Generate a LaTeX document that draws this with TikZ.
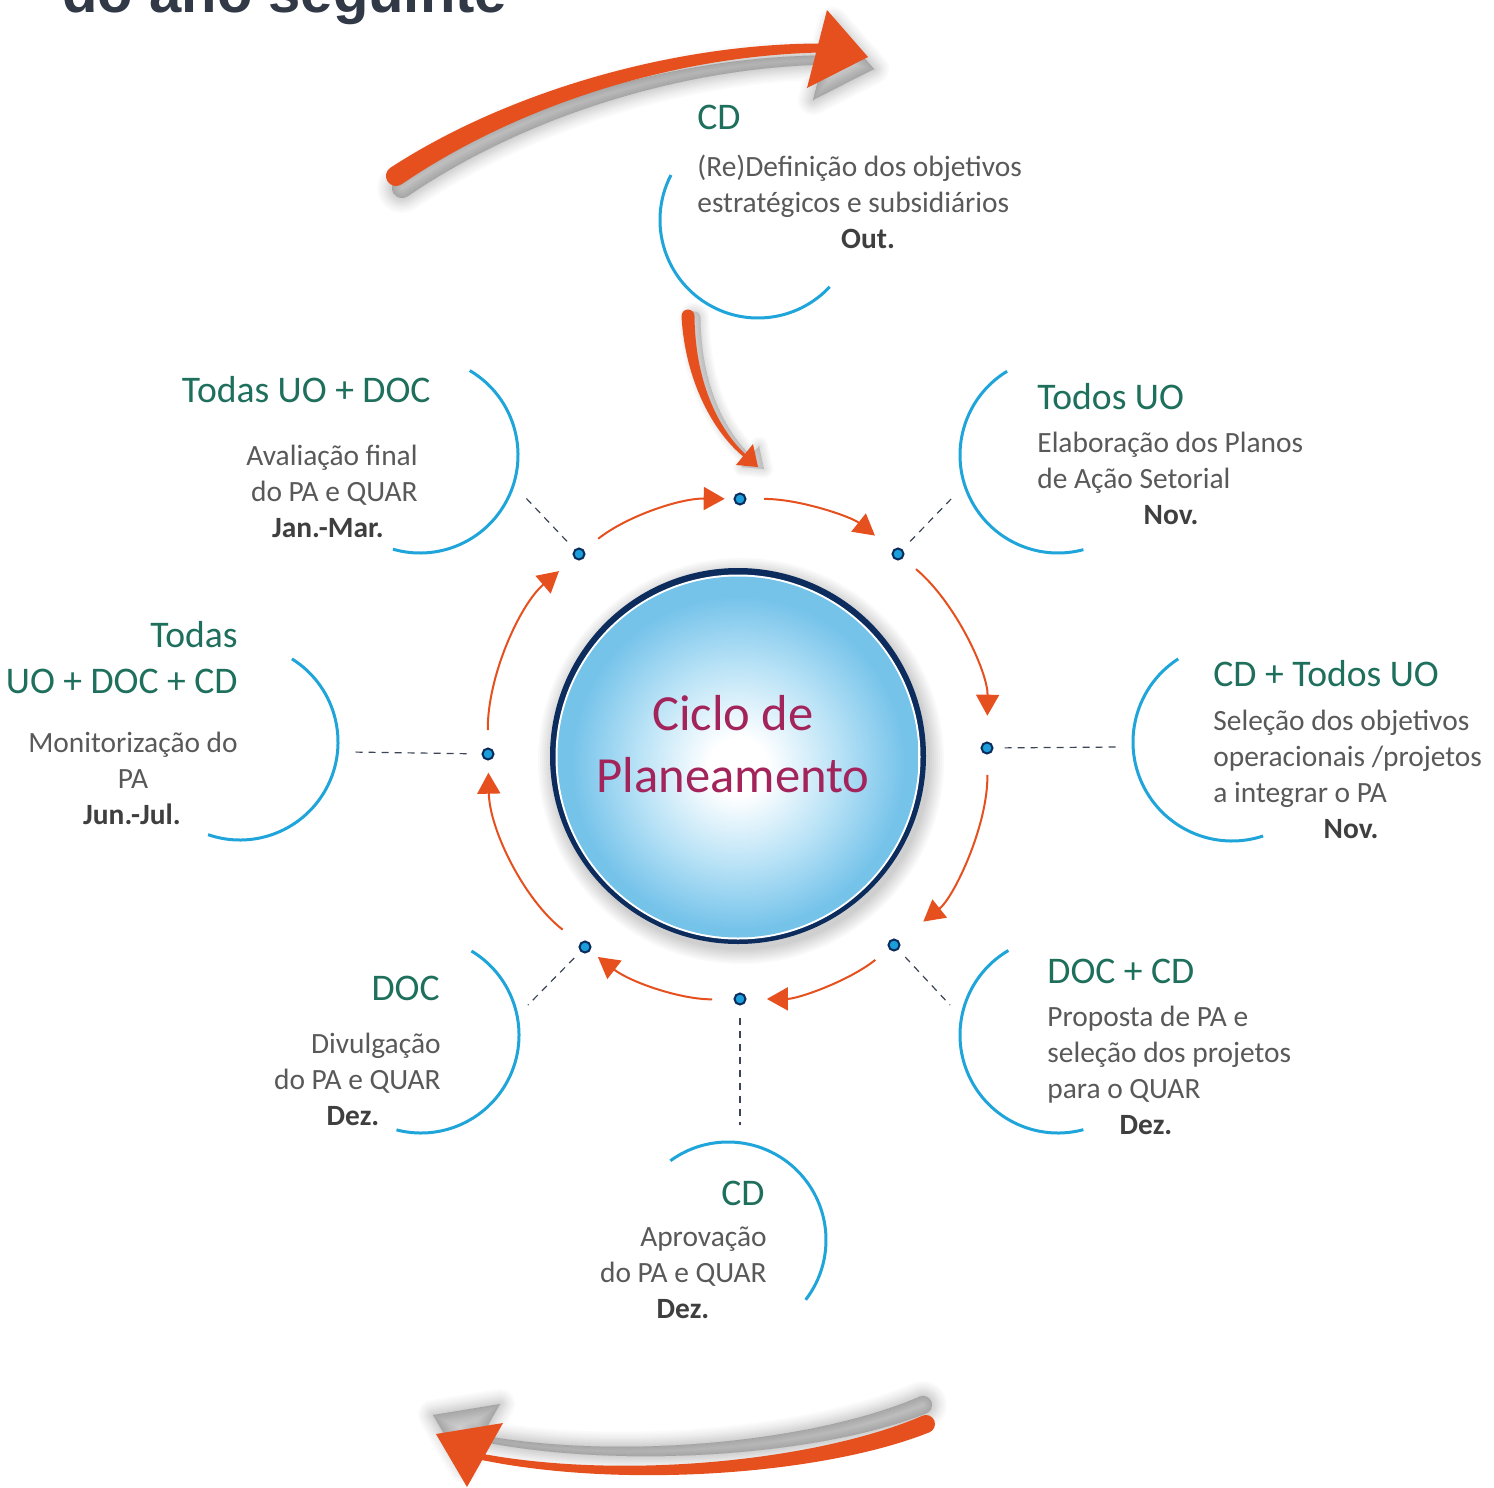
\documentclass[tikz,border=0pt]{standalone}
\usepackage{fontspec}
\setmainfont{Carlito}
\newfontfamily\titlefont{Liberation Sans}
\usetikzlibrary{arrows.meta}
\definecolor{orng}{HTML}{E6501E}
\definecolor{navy}{HTML}{0B2C5C}
\definecolor{dotblue}{HTML}{1A9FDB}
\definecolor{arcblue}{HTML}{1FA5DA}
\definecolor{hdrgreen}{HTML}{1E6F5C}
\definecolor{bodygray}{HTML}{595959}
\definecolor{mongray}{HTML}{3F3F3F}
\definecolor{crimson}{HTML}{A3245A}
\definecolor{titlegray}{HTML}{313846}
\definecolor{dashgray}{HTML}{3B4556}
\definecolor{ballmid}{HTML}{B8E2F6}
\definecolor{balledge}{HTML}{76C3EA}
\pgfdeclareradialshading{ballfill}{\pgfpoint{0bp}{-1.5bp}}{color(0bp)=(white); color(4bp)=(white); color(14bp)=(ballmid); color(23bp)=(balledge); color(25bp)=(balledge); color(50bp)=(balledge)}
% big arrow A (top), B (into the top dot), C (bottom): shaft with round tail + head
\newcommand{\arrA}{(390.5,167.7) .. controls (505.3,92.9) and (670,44) .. (820,43.5) -- (820,52.5) .. controls (670,56) and (514.7,107.1) .. (401.5,184.3) arc[start angle=56.5, end angle=236.5, radius=10] -- cycle (827,10) -- (868,57) -- (807,88) -- cycle}
\newcommand{\arrB}{(681.5,316.2) .. controls (685,380.2) and (713,432.3) .. (744,457.1) -- (746,454.9) .. controls (717,427.7) and (695,379.8) .. (694.5,315.8) arc[start angle=-1.8, end angle=-181.8, radius=6.5] -- cycle (758,467) -- (753,444) -- (736,465) -- cycle}
\newcommand{\arrC}{(922.6,1415.7) .. controls (817.1,1461.1) and (620.9,1480.6) .. (478,1453) -- (477,1459) .. controls (619.1,1489.4) and (822.9,1474.9) .. (929.4,1432.3) arc[start angle=67.7, end angle=-112.3, radius=9] -- cycle (436,1434) -- (467,1487) -- (503,1423) -- cycle}
\begin{document}
\begin{tikzpicture}[x=0.5pt,y=-0.5pt,
  dot/.style={circle, minimum size=5.5pt, inner sep=0pt, outer sep=0pt, fill=dotblue, draw=navy, line width=1pt},
  cyc/.style={draw=orng, line width=1pt, -{Triangle[length=10.5pt,width=11.5pt]}, looseness=0.88},
  lead/.style={draw=dashgray, line width=0.6pt, dash pattern=on 3.5pt off 3pt},
  barc/.style={draw=arcblue, line width=1.5pt},
  hdr/.style={text=hdrgreen, font=\fontsize{18.8}{23}\selectfont, inner sep=0pt},
  body/.style={text=bodygray, font=\fontsize{14.7}{18}\selectfont, inner sep=0pt},
  mon/.style={text=mongray, font=\bfseries\fontsize{14.7}{18}\selectfont, inner sep=0pt, anchor=base},
  lft/.style={anchor=base west, text width=180pt, align=flush left},
  rgt/.style={anchor=base east, text width=180pt, align=flush right},
  ctr/.style={anchor=base, text width=180pt, align=flush center},
  shad/.style={black, opacity=0.02, line join=round},
]
\useasboundingbox (0,0) rectangle (1494,1488);
\fill[white] (0,0) rectangle (1494,1488);

% title (cut off at the top)
\node[anchor=base west, inner sep=0pt, text=titlegray, font=\titlefont\bfseries\fontsize{29}{34}\selectfont] (title) at (62,12) {do ano seguinte};

% soft shadows of the big arrows
\begin{scope}[shift={(6,12)}]
  \foreach \w in {15pt,13pt,11pt,9pt,7.5pt,6pt,4.5pt,3pt,1.5pt,0pt}{\filldraw[shad, line width=\w] \arrA;}
\end{scope}
\begin{scope}[shift={(6,2)}]
  \foreach \w in {9pt,7.5pt,6pt,4.5pt,3pt,1.5pt,0pt}{\filldraw[shad, line width=\w] \arrB;}
\end{scope}
\begin{scope}[shift={(-3,-19)}]
  \foreach \w in {15pt,13pt,11pt,9pt,7.5pt,6pt,4.5pt,3pt,1.5pt,0pt}{\filldraw[shad, line width=\w] \arrC;}
\end{scope}

% big arrows
\fill[orng] \arrA;
\fill[orng] \arrB;
\fill[orng] \arrC;

% central sphere
\foreach \k in {0,...,7} \fill[black, opacity=0.025] (741,761) circle[radius=189+2*\k];
\fill[navy] (738,756) circle[radius=188];
\fill[white] (738,757) circle[radius=182.5];
\shade[shading=ballfill] (738,757) circle[radius=180.5];
\node[ctr, inner sep=0pt, text=crimson, font=\fontsize{25.3}{31}\selectfont] (hubtext) at (733,730) {Ciclo de\\Planeamento};

% dots
\node[dot] (dT) at (740,499) {};
\node[dot] (dTR) at (898,554) {};
\node[dot] (dR) at (987,748) {};
\node[dot] (dBR) at (894,945) {};
\node[dot] (dB) at (740,999) {};
\node[dot] (dBL) at (585,947) {};
\node[dot] (dL) at (488,754) {};
\node[dot] (dTL) at (579,554) {};

% cycle arrows
\draw[cyc, shorten <=9.5pt, shorten >=4.9pt] (dTL) to[bend left=19.6] (dT);
\draw[cyc, shorten <=9.3pt, shorten >=12pt] (dT) to[bend left=19.4] (dTR);
\draw[cyc, shorten <=9pt, shorten >=13.4pt] (dTR) to[bend left=25.3] (dR);
\draw[cyc, shorten <=10.7pt, shorten >=16pt] (dR) to[bend left=26.1] (dBR);
\draw[cyc, shorten <=9.2pt, shorten >=10.7pt] (dBR) to[bend left=19.2] (dB);
\draw[cyc, shorten <=11.2pt, shorten >=5.4pt] (dB) to[bend left=19.2] (dBL);
\draw[cyc, shorten <=11.4pt, shorten >=6.6pt] (dBL) to[bend left=25.5] (dL);
\draw[cyc, shorten <=9.2pt, shorten >=10.4pt] (dL) to[bend left=25] (dTL);

% leaders
\coordinate (eTL) at (525,497);
\coordinate (eTR) at (953,497);
\coordinate (eR) at (1120,747);
\coordinate (eL) at (350,752);
\coordinate (eBL) at (528,1005);
\coordinate (eBR) at (950,1005);
\coordinate (eB) at (740,1125);
\draw[lead, shorten <=6pt] (dTL) -- (eTL);
\draw[lead, shorten <=6pt] (dTR) -- (eTR);
\draw[lead, shorten <=6pt] (dR) -- (eR);
\draw[lead, shorten <=8pt] (dL) -- (eL);
\draw[lead, shorten <=5pt] (dBL) -- (eBL);
\draw[lead, shorten <=5.5pt] (dBR) -- (eBR);
\draw[lead, shorten <=6.5pt] (dB) -- (eB);

% blue arcs
\draw[barc] ([shift={(-152.7:98)}]758,220) arc[start angle=-152.7, end angle=-317, radius=98];
\draw[barc] ([shift={(-59.5:98)}]420,455) arc[start angle=-59.5, end angle=106, radius=98];
\draw[barc] ([shift={(-121.3:98)}]1058,455) arc[start angle=-121.3, end angle=-285, radius=98];
\draw[barc] ([shift={(-58:98)}]240,742) arc[start angle=-58, end angle=109, radius=98];
\draw[barc] ([shift={(-122.9:99)}]1232,742) arc[start angle=-122.9, end angle=-288.3, radius=99];
\draw[barc] ([shift={(-59:98)}]421,1035) arc[start angle=-59, end angle=104.5, radius=98];
\draw[barc] ([shift={(-120.4:98)}]1058,1035) arc[start angle=-120.4, end angle=-285, radius=98];
\draw[barc] ([shift={(-126:98)}]728,1240) arc[start angle=-126, end angle=37.6, radius=98];

% texts
\node[hdr, anchor=base west] (hT) at (697,129) {CD};
\node[body, lft] (bT) at (697,176) {(Re)Definição dos objetivos\\estratégicos e subsidiários};
\node[mon] (mT) at (868,248) {Out.};

\node[hdr, anchor=base east] (hTL) at (431,402) {Todas UO + DOC};
\node[body, rgt] (bTL) at (418,465) {Avaliação final\\do PA e QUAR};
\node[mon] (mTL) at (328,537) {Jan.-Mar.};

\node[hdr, anchor=base west] (hTR) at (1037,409) {Todos UO};
\node[body, lft] (bTR) at (1037,452) {Elaboração dos Planos\\de Ação Setorial};
\node[mon] (mTR) at (1171,524) {Nov.};

\node[hdr, rgt] (hL) at (238,647) {Todas\\UO + DOC + CD};
\node[body, ctr] (bL) at (133,752) {Monitorização do\\PA};
\node[mon] (mL) at (132,824) {Jun.-Jul.};

\node[hdr, anchor=base west] (hR) at (1213,686) {CD + Todos UO};
\node[body, lft] (bR) at (1213,730) {Seleção dos objetivos\\operacionais /projetos\\a integrar o PA};
\node[mon] (mR) at (1351,838) {Nov.};

\node[hdr, anchor=base east] (hBL) at (440,1000) {DOC};
\node[body, rgt] (bBL) at (441,1053) {Divulgação\\do PA e QUAR};
\node[mon] (mBL) at (353,1125) {Dez.};

\node[hdr, anchor=base west] (hBR) at (1047,983) {DOC + CD};
\node[body, lft] (bBR) at (1047,1026) {Proposta de PA e\\seleção dos projetos\\para o QUAR};
\node[mon] (mBR) at (1146,1134) {Dez.};

\node[hdr, anchor=base east] (hB) at (765,1205) {CD};
\node[body, rgt] (bB) at (767,1246) {Aprovação\\do PA e QUAR};
\node[mon] (mB) at (683,1318) {Dez.};
\end{tikzpicture}
\end{document}
